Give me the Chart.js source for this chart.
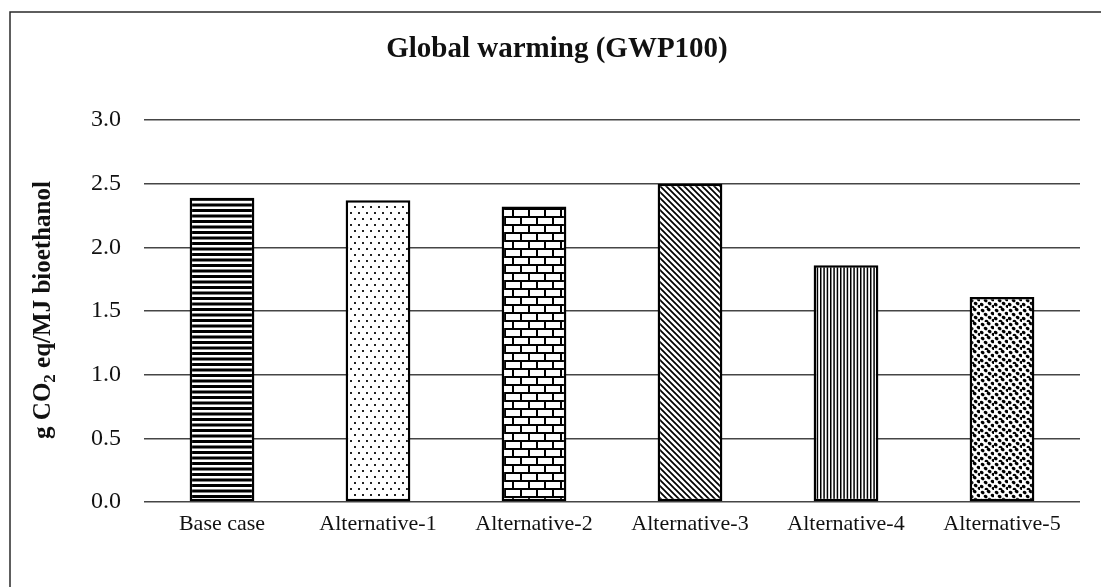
<!DOCTYPE html>
<html>
<head>
<meta charset="utf-8">
<script src="https://cdn.jsdelivr.net/npm/chart.js@4.4.1/dist/chart.umd.min.js"></script>
<style>
  html, body { margin: 0; padding: 0; background: #ffffff; }
  #wrap { width: 1101px; height: 587px; position: relative; }
</style>
</head>
<body>
<div id="wrap"><canvas id="c" width="1101" height="587"></canvas></div>
<script>
// Scenario names and their global warming impact (g CO2 eq per MJ of bioethanol)
const categories = ['Base case', 'Alternative-1', 'Alternative-2', 'Alternative-3', 'Alternative-4', 'Alternative-5'];
const gwpValues = [2.39, 2.37, 2.32, 2.50, 1.86, 1.61];
const yTicks = [0.0, 0.5, 1.0, 1.5, 2.0, 2.5, 3.0];
const chartTitle = 'Global warming (GWP100)';
const yTitleParts = ['g CO', '2', ' eq/MJ bioethanol'];

const SERIF = '"Liberation Serif", "Times New Roman", serif';

// ---- monochrome fill patterns, one per scenario ----
function makeTile(w, h, draw) {
  const cv = document.createElement('canvas');
  cv.width = w; cv.height = h;
  const g = cv.getContext('2d');
  g.fillStyle = '#ffffff';
  g.fillRect(0, 0, w, h);
  g.fillStyle = '#000000';
  g.strokeStyle = '#000000';
  draw(g);
  return cv;
}

const tiles = [
  // horizontal stripes
  makeTile(8, 11, g => {
    g.fillRect(0, 0, 8, 3);
    g.fillRect(0, 5.5, 8, 3);
  }),
  // sparse staggered dots
  makeTile(8, 12, g => {
    g.fillStyle = '#222';
    g.fillRect(2, 2, 2, 2);
    g.fillRect(6, 8, 2, 2);
  }),
  // brick
  makeTile(16, 16, g => {
    g.fillRect(0, 0, 16, 2);
    g.fillRect(0, 8, 16, 2);
    g.fillRect(0, 0, 2, 8);
    g.fillRect(8, 8, 2, 8);
  }),
  // diagonal hatch (top-left to bottom-right)
  makeTile(6, 6, g => {
    g.lineWidth = 1.7;
    g.beginPath();
    g.moveTo(-1, -1); g.lineTo(7, 7);
    g.moveTo(-7, -1); g.lineTo(1, 7);
    g.moveTo(5, -1); g.lineTo(13, 7);
    g.stroke();
  }),
  // fine vertical lines
  makeTile(10, 4, g => {
    g.fillRect(0, 0, 1.5, 4);
    g.fillRect(3.33, 0, 1.5, 4);
    g.fillRect(6.67, 0, 1.5, 4);
  }),
  // dense irregular stipple
  makeTile(14, 14, g => {
    const dots = [[1, 1], [7, 0], [11, 4], [4, 5], [0, 9], [8, 8], [5, 12], [12, 11]];
    dots.forEach(([x, y]) => {
      g.beginPath();
      g.ellipse(x + 1.6, y + 1.5, 2.0, 1.6, 0.5, 0, Math.PI * 2);
      g.fill();
    });
  })
];

const ctx = document.getElementById('c').getContext('2d');
const patterns = tiles.map(t => ctx.createPattern(t, 'repeat'));

// Frame, title and rotated axis title with a subscript
const decorations = {
  id: 'decorations',
  beforeDraw(chart) {
    const c = chart.ctx;
    c.save();
    c.fillStyle = '#ffffff';
    c.fillRect(0, 0, chart.width, chart.height);
    c.restore();
  },
  afterDraw(chart) {
    const c = chart.ctx;
    c.save();
    // outer frame (top and left edges)
    c.strokeStyle = '#2a2a2a';
    c.lineWidth = 1.5;
    c.beginPath();
    c.moveTo(10, 587);
    c.lineTo(10, 12);
    c.lineTo(1101, 12);
    c.stroke();

    // chart title
    c.fillStyle = '#111';
    c.font = 'bold 29px ' + SERIF;
    c.textAlign = 'center';
    c.textBaseline = 'middle';
    c.fillText(chartTitle, 557, 50);

    // y axis title
    c.translate(42, 310);
    c.rotate(-Math.PI / 2);
    const big = 'bold 25px ' + SERIF;
    const small = 'bold 17px ' + SERIF;
    c.font = big;
    const w0 = c.measureText(yTitleParts[0]).width;
    const w2 = c.measureText(yTitleParts[2]).width;
    c.font = small;
    const w1 = c.measureText(yTitleParts[1]).width;
    let x = -(w0 + w1 + w2) / 2;
    c.textAlign = 'left';
    c.textBaseline = 'alphabetic';
    c.font = big;
    c.fillText(yTitleParts[0], x, 8);
    x += w0;
    c.font = small;
    c.fillText(yTitleParts[1], x, 13);
    x += w1;
    c.font = big;
    c.fillText(yTitleParts[2], x, 8);
    c.restore();
  }
};

new Chart(ctx, {
  type: 'bar',
  data: {
    labels: categories,
    datasets: [{
      data: gwpValues,
      backgroundColor: patterns,
      borderColor: '#000000',
      borderWidth: 2.5,
      borderSkipped: false,
      categoryPercentage: 1.0,
      barPercentage: 0.415
    }]
  },
  options: {
    responsive: false,
    animation: false,
    devicePixelRatio: 1,
    layout: { padding: { left: 10, right: 21, top: 120, bottom: 0 } },
    plugins: {
      legend: { display: false },
      title: { display: false },
      tooltip: { enabled: false }
    },
    scales: {
      x: {
        grid: { display: false, drawTicks: false },
        border: { display: false },
        ticks: {
          color: '#111',
          padding: 9,
          maxRotation: 0,
          autoSkip: false,
          font: { family: SERIF, size: 22 }
        },
        afterFit(scale) { scale.height = 85; }
      },
      y: {
        min: 0,
        max: 3,
        afterBuildTicks(scale) { scale.ticks = yTicks.map(v => ({ value: v })); },
        grid: { color: '#454545', lineWidth: 1.5, drawTicks: false },
        border: { display: false },
        ticks: {
          color: '#111',
          padding: 23,
          font: { family: SERIF, size: 24 },
          callback: v => Number(v).toFixed(1)
        },
        afterFit(scale) { scale.width = 134; }
      }
    }
  },
  plugins: [decorations]
});
</script>
</body>
</html>
